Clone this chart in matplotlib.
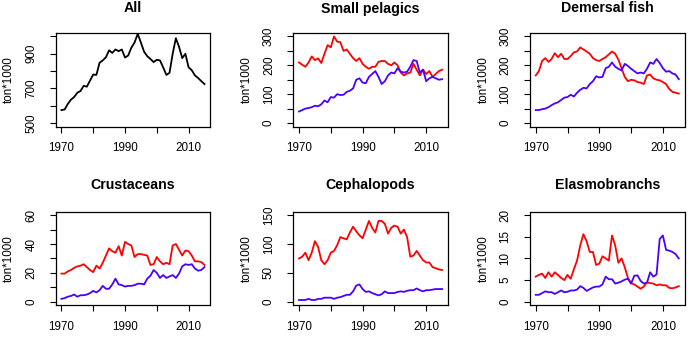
import numpy as np
import matplotlib
matplotlib.use("Agg")
import matplotlib.pyplot as plt

plt.rcParams['font.family'] = ['Liberation Sans', 'DejaVu Sans']

years = np.arange(1970, 2016)

all_total = [575, 578, 610, 635, 650, 675, 685, 715, 710, 745,
             780, 778, 848, 862, 880, 920, 905, 925, 915, 925,
             878, 890, 935, 965, 1015, 965, 912, 886, 870, 852,
             865, 862, 822, 778, 790, 900, 990, 940, 875, 900,
             822, 805, 775, 760, 742, 725]

sp_red = [210, 202, 195, 210, 231, 218, 224, 208, 240, 270,
          262, 300, 282, 280, 250, 255, 240, 225, 215, 225,
          205, 195, 188, 195, 195, 212, 215, 215, 205, 200,
          210, 200, 175, 165, 172, 175, 205, 185, 165, 185,
          170, 180, 160, 170, 180, 185]
sp_blue = [40, 45, 50, 52, 55, 60, 58, 65, 78, 72,
           90, 88, 100, 97, 98, 108, 112, 120, 150, 155,
           140, 138, 160, 170, 180, 160, 135, 145, 165, 175,
           172, 190, 178, 175, 178, 195, 218, 215, 175, 185,
           145, 155, 160, 155, 150, 152]

df_red = [165, 180, 215, 225, 212, 222, 242, 228, 240, 222,
          222, 232, 245, 248, 262, 255, 248, 240, 225, 218,
          215, 222, 228, 238, 248, 240, 220, 190, 160, 145,
          150, 148, 142, 140, 135, 165, 168, 155, 150, 148,
          142, 135, 118, 108, 105, 102]
df_blue = [45, 45, 48, 50, 55, 62, 68, 72, 80, 88,
           90, 98, 92, 105, 115, 122, 120, 135, 145, 162,
           158, 160, 190, 195, 210, 195, 188, 182, 205, 198,
           188, 180, 172, 175, 172, 188, 210, 205, 222, 208,
           190, 178, 180, 172, 168, 152]

cr_red = [19.5, 19.5, 21, 22, 23.5, 24.5, 25, 26, 24, 22,
          20.5, 25, 23, 27, 32, 37, 35, 34, 38.5, 32,
          41.5, 40, 39, 31, 33, 33, 32.5, 32, 25.5, 26,
          31, 28, 26, 27, 26, 39, 40, 36, 32, 35.5,
          35, 32, 28, 28, 27.5, 25.5]
cr_blue = [2, 2.5, 3.5, 4, 5, 3.5, 4.5, 4.5, 5, 6,
           7.5, 6.5, 8, 11, 9, 9, 12, 16, 12, 11.5,
           10.5, 11, 11, 11.5, 12.5, 12.5, 12, 16, 18, 22,
           20, 16.5, 18.5, 16.5, 17.5, 18.5, 16.5, 19.5, 24.5, 26,
           25.5, 26, 23, 21.5, 22, 24]

ce_red = [75, 78, 85, 72, 85, 105, 95, 72, 65, 72,
          85, 88, 98, 112, 110, 108, 120, 130, 122, 115,
          110, 125, 140, 128, 120, 140, 140, 135, 118, 128,
          132, 130, 118, 125, 112, 78, 80, 88, 80, 72,
          68, 68, 60, 58, 56, 55]
ce_blue = [3, 3, 3, 5, 3, 3, 5, 5, 7, 7,
           7, 5, 7, 8, 10, 12, 12, 18, 28, 30,
           22, 17, 18, 15, 13, 11, 13, 18, 15, 15,
           15, 17, 18, 17, 19, 20, 20, 23, 20, 18,
           20, 20, 21, 22, 22, 22]

el_red = [5.8, 6.2, 6.5, 5.5, 6.8, 5.8, 6.8, 6.2, 5.5, 5.0,
          6.2, 5.3, 7.5, 9.5, 13, 15.6, 14, 11.5, 11.5, 8.5,
          8.8, 10.5, 10, 9.5, 15.3, 13, 9, 10, 8, 5.5,
          4.3, 4, 3.5, 3, 3.5, 4.5, 4.3, 4.2, 3.8, 4,
          3.8, 3.8, 3.2, 3.1, 3.3, 3.6]
el_blue = [1.6, 1.6, 2, 2.4, 2.2, 2.2, 1.8, 2.2, 2.6, 2.2,
           2.3, 2.6, 2.6, 2.8, 3.6, 3.2, 2.5, 2.9, 3.3, 3.5,
           3.5, 4, 5.8, 5.2, 5.2, 4.2, 4.4, 4.7, 5.1, 5.3,
           4.2, 6, 6.1, 4.8, 4.2, 4.4, 6.8, 5.8, 6.3, 14.5,
           15.3, 12, 11.8, 11.5, 11, 10]

# title, red series, blue series, y range, y ticks, labelled ticks
panels = [
    ("All", all_total, None, (500, 1000), range(500, 1001, 100), [500, 700, 900]),
    ("Small pelagics", sp_red, sp_blue, (0, 300), range(0, 301, 50), [0, 100, 200, 300]),
    ("Demersal fish", df_red, df_blue, (0, 300), range(0, 301, 50), [0, 100, 200, 300]),
    ("Crustaceans", cr_red, cr_blue, (0, 60), range(0, 61, 10), [0, 20, 40, 60]),
    ("Cephalopods", ce_red, ce_blue, (0, 150), range(0, 151, 50), [0, 50, 100, 150]),
    ("Elasmobranchs", el_red, el_blue, (0, 20), range(0, 21, 5), [0, 5, 10, 15, 20]),
]

W, H = 691, 340
fig = plt.figure(figsize=(W / 100, H / 100), dpi=100)

col_left = [55.7, 293.3, 530.0]
col_w = 154.5
row_top = [33.0, 211.7]
row_h = 93.5
title_y = [8.5, 185.0]

def rext(lo, hi):
    d = (hi - lo) * 0.04
    return lo - d, hi + d

for i, (title, red, blue, yr, yt, ylab) in enumerate(panels):
    r, c = divmod(i, 3)
    l, t = col_left[c], row_top[r]
    ax = fig.add_axes([l / W, 1 - (t + row_h) / H, col_w / W, row_h / H])
    if blue is None:
        ax.plot(years, red, color='black', lw=1.3)
    else:
        ax.plot(years, red, color='#ff0000', lw=1.3)
        ax.plot(years, blue, color='#4a00ff', lw=1.3)
    ax.set_xlim(*rext(1970, 2015))
    ax.set_ylim(*rext(*yr))
    ax.set_xticks(range(1970, 2011, 10))
    ax.set_xticklabels([str(y) if y in (1970, 1990, 2010) else '' for y in range(1970, 2011, 10)])
    ax.set_yticks(list(yt))
    ax.set_yticklabels([str(v) if v in ylab else '' for v in yt],
                       rotation=90, va='center')
    for s in ax.spines.values():
        s.set_linewidth(0.9)
    ax.tick_params(length=4.2, width=0.8, labelsize=8.4)
    ax.tick_params(axis='x', pad=7)
    ax.tick_params(axis='y', pad=9)
    fig.text((l + col_w / 2) / W, 1 - title_y[r] / H, title, ha='center', va='center',
             fontsize=10.2, fontweight='bold')
    fig.text((l - 46.5) / W, 1 - (t + row_h / 2) / H, 'ton*1000', rotation=90,
             ha='center', va='center', fontsize=8.4)

fig.savefig('out.png', dpi=100)
